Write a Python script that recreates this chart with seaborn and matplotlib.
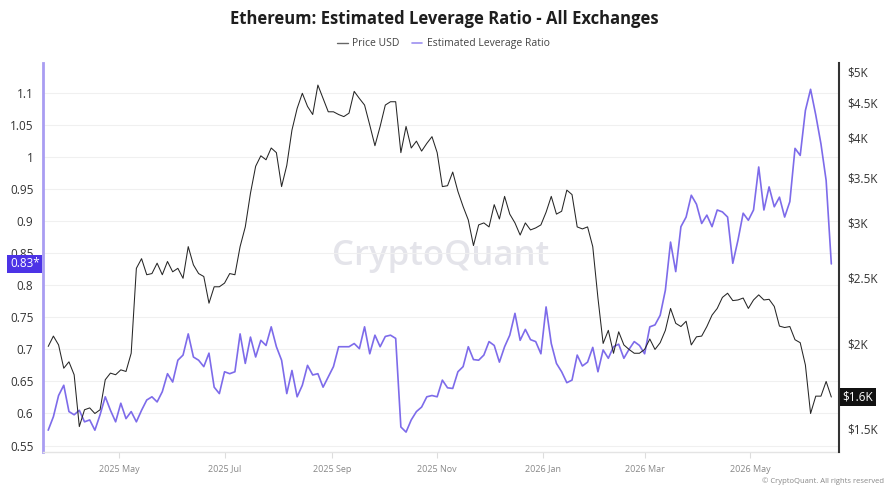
import numpy as np
import pandas as pd
import matplotlib
matplotlib.use("Agg")
import matplotlib.pyplot as plt
import matplotlib.transforms as mtransforms
from matplotlib.lines import Line2D
from matplotlib.ticker import FixedLocator, NullLocator
import seaborn as sns

# ---------------- data ----------------
start_date = "2025-03-21"
step_days = 3

price_usd = [
    1980, 2050, 1990, 1840, 1880, 1800, 1512, 1600, 1610, 1580,
    1600, 1770, 1810, 1800, 1830, 1820, 1935, 2575, 2660, 2520,
    2530, 2620, 2520, 2635, 2545, 2575, 2490, 2770, 2605, 2530,
    2505, 2290, 2420, 2420, 2450, 2530, 2520, 2770, 2960, 3315,
    3630, 3760, 3710, 3860, 3800, 3390, 3640, 4100, 4410, 4640,
    4440, 4320, 4770, 4560, 4360, 4360, 4320, 4290, 4340, 4670,
    4560, 4460, 4170, 3890, 4150, 4460, 4510, 4510, 3800, 4150,
    3860, 3950, 3820, 3920, 4010, 3800, 3390, 3400, 3560, 3335,
    3170, 3030, 2780, 2980, 3000, 2960, 3190, 3040, 3280, 3090,
    3000, 2880, 3000, 2930, 2950, 2980, 3110, 3280, 3090, 3120,
    3350, 3300, 2960, 2940, 2960, 2770, 2330, 2000, 2090, 1935,
    2080, 1990, 1960, 1935, 1935, 1960, 2030, 1960, 2005, 2090,
    2250, 2140, 2117, 2155, 1990, 2045, 2050, 2117, 2200, 2250,
    2335, 2368, 2310, 2315, 2330, 2250, 2315, 2355, 2315, 2320,
    2265, 2120, 2110, 2117, 2025, 2005, 1860, 1580, 1675, 1675,
    1760, 1670,
]

leverage_ratio = [
    0.574, 0.595, 0.628, 0.644, 0.603, 0.598, 0.605, 0.587, 0.590, 0.574,
    0.598, 0.626, 0.605, 0.587, 0.616, 0.592, 0.603, 0.587, 0.605, 0.621,
    0.626, 0.618, 0.634, 0.662, 0.649, 0.683, 0.691, 0.724, 0.688, 0.683,
    0.673, 0.694, 0.641, 0.631, 0.665, 0.662, 0.665, 0.724, 0.678, 0.719,
    0.688, 0.714, 0.706, 0.735, 0.704, 0.683, 0.631, 0.667, 0.626, 0.644,
    0.675, 0.660, 0.662, 0.641, 0.657, 0.673, 0.704, 0.704, 0.704, 0.709,
    0.701, 0.735, 0.693, 0.722, 0.704, 0.720, 0.722, 0.717, 0.579, 0.571,
    0.590, 0.603, 0.610, 0.626, 0.628, 0.626, 0.652, 0.640, 0.639, 0.665,
    0.673, 0.704, 0.684, 0.683, 0.691, 0.712, 0.706, 0.680, 0.704, 0.722,
    0.756, 0.714, 0.731, 0.715, 0.712, 0.693, 0.766, 0.709, 0.678, 0.665,
    0.648, 0.652, 0.691, 0.674, 0.680, 0.703, 0.665, 0.699, 0.686, 0.704,
    0.708, 0.686, 0.700, 0.712, 0.706, 0.693, 0.735, 0.738, 0.753, 0.792,
    0.867, 0.821, 0.891, 0.906, 0.940, 0.926, 0.896, 0.909, 0.891, 0.917,
    0.914, 0.906, 0.834, 0.870, 0.912, 0.901, 0.917, 0.984, 0.917, 0.953,
    0.922, 0.937, 0.906, 0.930, 1.013, 1.002, 1.072, 1.105, 1.065, 1.020,
    0.963, 0.833,
]

left_ticks = [0.55, 0.6, 0.65, 0.7, 0.75, 0.8, 0.85, 0.9, 0.95, 1.0, 1.05, 1.1]
left_tick_labels = ["0.55", "0.6", "0.65", "0.7", "0.75", "0.8", "0.85",
                    "0.9", "0.95", "1", "1.05", "1.1"]
right_ticks = [1500, 2000, 2500, 3000, 3500, 4000, 4500, 5000]
right_tick_labels = ["$1.5K", "$2K", "$2.5K", "$3K", "$3.5K", "$4K", "$4.5K", "$5K"]
x_tick_dates = ["2025-05-01", "2025-07-01", "2025-09-01", "2025-11-01",
                "2026-01-01", "2026-03-01", "2026-05-01"]
x_tick_labels = ["2025 May", "2025 Jul", "2025 Sep", "2025 Nov",
                 "2026 Jan", "2026 Mar", "2026 May"]

title_text = "Ethereum: Estimated Leverage Ratio - All Exchanges"
series_names = ["Price USD", "Estimated Leverage Ratio"]

# ---------------- styling ----------------
PURPLE = "#7d6bea"
PRICE_COL = "#262626"

dates = pd.date_range(start_date, periods=len(price_usd), freq=f"{step_days}D")
df = pd.DataFrame({"date": dates, "price": price_usd, "ratio": leverage_ratio})

sns.set_theme(style="white")
plt.rcParams["font.family"] = ["Open Sans", "DejaVu Sans"]

fig = plt.figure(figsize=(8.87, 4.94), dpi=100)
ax = fig.add_axes([0.0485, 0.085, 0.8975, 0.7875])

# watermark
ax.text(0.5, 0.505, "CryptoQuant", transform=ax.transAxes, ha="center",
        va="center", fontsize=25, color="#e4e4ea", fontweight="semibold",
        zorder=0)

sns.lineplot(data=df, x="date", y="ratio", ax=ax, color=PURPLE,
             linewidth=1.2, legend=False, zorder=3)
ax2 = ax.twinx()
sns.lineplot(data=df, x="date", y="price", ax=ax2, color=PRICE_COL,
             linewidth=0.75, legend=False, zorder=3)

ax2.set_yscale("log")
ax2.set_ylim(1388, 5138)
ax.set_ylim(0.540, 1.146)
xlim = (pd.Timestamp("2025-03-18"), pd.Timestamp("2026-06-21 12:00"))
ax.set_xlim(*xlim)
ax2.set_xlim(*xlim)

# left axis
ax.set_yticks(left_ticks)
ax.set_yticklabels(left_tick_labels)
ax.grid(axis="y", color="#f0f0f0", linewidth=0.8)
ax.grid(axis="x", visible=False)
ax.tick_params(axis="y", length=0, labelsize=8.5, labelcolor="#333333", pad=7)
ax.set_ylabel("")
ax.set_xlabel("")

# right axis
ax2.yaxis.set_major_locator(FixedLocator(right_ticks))
ax2.yaxis.set_minor_locator(NullLocator())
ax2.set_yticklabels(right_tick_labels)
ax2.tick_params(axis="y", length=0, labelsize=8.5, labelcolor="#333333", pad=6)
ax2.set_ylabel("")
ax2.grid(False)

# x axis
ax.set_xticks(pd.to_datetime(x_tick_dates))
ax.set_xticklabels(x_tick_labels)
ax.tick_params(axis="x", length=4, width=0.8, color="#dddddd", labelsize=6.5,
               labelcolor="#888888", pad=5, bottom=True)

# spines
for s in ["top", "right"]:
    ax.spines[s].set_visible(False)
ax.spines["left"].set_color("#a99df2")
ax.spines["left"].set_linewidth(2)
ax.spines["bottom"].set_color("#e4e4e4")
ax.spines["bottom"].set_linewidth(1)
for s in ["top", "left", "bottom"]:
    ax2.spines[s].set_visible(False)
ax2.spines["right"].set_color("#333333")
ax2.spines["right"].set_linewidth(1.5)

# last-value markers
trans_l = mtransforms.blended_transform_factory(ax.transAxes, ax.transData)
ax.text(-0.004, leverage_ratio[-1], f"{leverage_ratio[-1]:.2f}*",
        transform=trans_l, ha="right", va="center", color="white",
        fontsize=8.5, clip_on=False, zorder=10,
        bbox=dict(boxstyle="square,pad=0.22", fc="#4c33e6", ec="none"))
trans_r = mtransforms.blended_transform_factory(ax2.transAxes, ax2.transData)
last_k = np.floor(price_usd[-1] / 100) / 10
ax2.text(1.004, price_usd[-1], f"${last_k:.1f}K", transform=trans_r,
         ha="left", va="center", color="white", fontsize=8.5,
         clip_on=False, zorder=10,
         bbox=dict(boxstyle="square,pad=0.22", fc="#111111", ec="none"))

# title & legend
fig.text(0.501, 0.962, title_text, ha="center", va="center", fontsize=12,
         fontweight="bold", color="#1e1e1e")
handles = [Line2D([], [], color="#666666", lw=1),
           Line2D([], [], color="#9d90f0", lw=1.2)]
fig.legend(handles, series_names, loc="center", bbox_to_anchor=(0.5, 0.911),
           ncol=2, frameon=False, fontsize=7.5, handlelength=1.0,
           handletextpad=0.4, columnspacing=1.2, labelcolor="#444444")

fig.text(0.997, 0.026, "© CryptoQuant. All rights reserved", ha="right",
         va="center", fontsize=5.5, color="#888888")

fig.savefig("out.png", dpi=100)
